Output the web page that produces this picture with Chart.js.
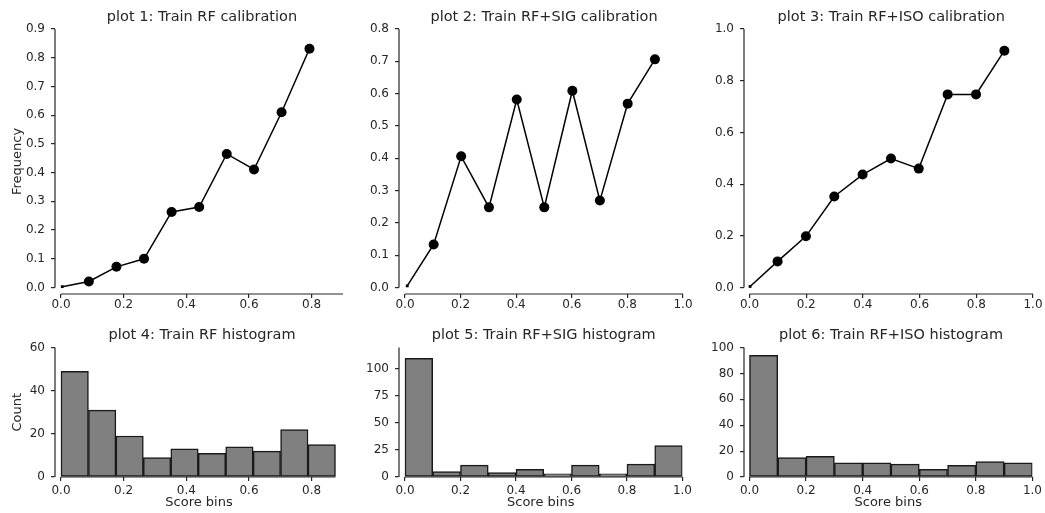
<!DOCTYPE html>
<html>
<head>
<meta charset="utf-8">
<script src="https://cdn.jsdelivr.net/npm/chart.js@4.4.0/dist/chart.umd.min.js"></script>
<style>
  html, body { margin: 0; padding: 0; background: #fff; }
  #page { position: relative; width: 1045px; height: 513px; overflow: hidden; }
  canvas { position: absolute; }
</style>
</head>
<body>
<div id="page">
  <canvas id="c1" width="350" height="320" style="left:0;top:0"></canvas>
  <canvas id="c2" width="345" height="320" style="left:350px;top:0"></canvas>
  <canvas id="c3" width="350" height="320" style="left:695px;top:0"></canvas>
  <canvas id="c4" width="350" height="193" style="left:0;top:320px"></canvas>
  <canvas id="c5" width="345" height="193" style="left:350px;top:320px"></canvas>
  <canvas id="c6" width="350" height="193" style="left:695px;top:320px"></canvas>
</div>
<script>
// calibration curves: mean score per bin vs observed frequency
const calib1X = [0.004, 0.089, 0.177, 0.265, 0.353, 0.441, 0.529, 0.616, 0.704, 0.793];
const calib1Y = [0.003, 0.021, 0.072, 0.100, 0.263, 0.280, 0.465, 0.411, 0.610, 0.831];
const calib2X = [0.008, 0.103, 0.202, 0.302, 0.402, 0.501, 0.602, 0.701, 0.801, 0.899];
const calib2Y = [0.005, 0.133, 0.406, 0.248, 0.582, 0.248, 0.609, 0.269, 0.569, 0.706];
const calib3X = [0.002, 0.099, 0.199, 0.299, 0.399, 0.499, 0.597, 0.699, 0.799, 0.899];
const calib3Y = [0.004, 0.101, 0.198, 0.352, 0.437, 0.499, 0.460, 0.747, 0.747, 0.916];

// histograms of scores
const hist4Edges = [0, 0.0876, 0.1752, 0.2628, 0.3504, 0.438, 0.5256, 0.6132, 0.7008, 0.7884, 0.876];
const hist4Counts = [49, 31, 19, 9, 13, 11, 14, 12, 22, 15];
const hist5Edges = [0, 0.1, 0.2, 0.3, 0.4, 0.5, 0.6, 0.7, 0.8, 0.9, 1.0];
const hist5Counts = [110, 5, 11, 4, 7, 3, 11, 3, 12, 29];
const hist6Edges = [0, 0.1, 0.2, 0.3, 0.4, 0.5, 0.6, 0.7, 0.8, 0.9, 1.0];
const hist6Counts = [94, 15, 16, 11, 11, 10, 6, 9, 12, 11];

// tick values
const scoreTicksShort = [0, 0.2, 0.4, 0.6, 0.8];
const scoreTicks = [0, 0.2, 0.4, 0.6, 0.8, 1.0];
const freqTicks1 = [0, 0.1, 0.2, 0.3, 0.4, 0.5, 0.6, 0.7, 0.8, 0.9];
const freqTicks2 = [0, 0.1, 0.2, 0.3, 0.4, 0.5, 0.6, 0.7, 0.8];
const freqTicks3 = [0, 0.2, 0.4, 0.6, 0.8, 1.0];
const countTicks4 = [0, 20, 40, 60];
const countTicks5 = [0, 25, 50, 75, 100];
const countTicks6 = [0, 20, 40, 60, 80, 100];

const INK = "#262626";
Chart.defaults.font.family = '"DejaVu Sans", sans-serif';
Chart.defaults.font.size = 12;
Chart.defaults.color = INK;

// offset spines (seaborn despine style) + title centred over the data range
const panelDecor = {
  id: "panelDecor",
  afterDraw(chart, args, opts) {
    const { ctx, chartArea, scales: { x, y } } = chart;
    ctx.save();
    ctx.strokeStyle = INK;
    ctx.lineWidth = 1.2;
    ctx.beginPath();
    ctx.moveTo(chartArea.left, y.getPixelForValue(0));
    ctx.lineTo(chartArea.left, y.getPixelForValue(y.max));
    ctx.moveTo(x.getPixelForValue(0), chartArea.bottom);
    ctx.lineTo(x.getPixelForValue(opts.xEnd), chartArea.bottom);
    ctx.stroke();
    ctx.fillStyle = INK;
    ctx.font = '14.5px "DejaVu Sans", sans-serif';
    ctx.textAlign = "center";
    ctx.textBaseline = "middle";
    const cx = (x.getPixelForValue(0) + x.getPixelForValue(x.max)) / 2;
    ctx.fillText(opts.title, cx, chartArea.top - 12);
    ctx.restore();
  }
};

function axis(p, which) {
  const isX = which === "x";
  return {
    type: "linear",
    min: isX ? p.xMin : p.yMin,
    max: isX ? p.xMax : p.yMax,
    offset: false,
    afterBuildTicks: s => { s.ticks = (isX ? p.xTicks : p.yTicks).map(v => ({ value: v })); },
    afterFit: s => { if (isX) s.height = p.xAxisHeight; else s.width = p.yAxisWidth; },
    ticks: {
      autoSkip: false,
      maxRotation: 0,
      padding: isX ? p.xTickPad : 6,
      callback: v => (isX || p.yDecimals) ? v.toFixed(1) : String(v)
    },
    grid: { offset: false, drawOnChartArea: false, tickLength: 4, color: INK, lineWidth: 1.2 },
    border: { display: false },
    title: isX
      ? { display: !!p.xTitle, text: p.xTitle, font: { size: 13 }, padding: { top: 0, bottom: 1 } }
      : { display: !!p.yTitle, text: p.yTitle, font: { size: 13 }, padding: { top: 10, bottom: 0 } }
  };
}

function baseOptions(p) {
  return {
    responsive: false,
    animation: false,
    layout: { autoPadding: false, padding: p.padding },
    plugins: {
      legend: { display: false },
      tooltip: { enabled: false },
      panelDecor: { title: p.title, xEnd: p.xEnd }
    },
    scales: { x: axis(p, "x"), y: axis(p, "y") }
  };
}

function calibrationChart(id, xs, ys, p) {
  return new Chart(document.getElementById(id), {
    type: "scatter",
    data: {
      datasets: [{
        data: xs.map((x, i) => ({ x, y: ys[i] })),
        showLine: true,
        borderColor: "#000",
        borderWidth: 1.5,
        backgroundColor: "#000",
        pointBackgroundColor: "#000",
        pointBorderColor: "#000",
        pointBorderWidth: 0,
        pointStyle: c => c.dataIndex === 0 ? "rect" : "circle",
        pointRadius: c => c.dataIndex === 0 ? 2 : 5
      }]
    },
    options: baseOptions(p),
    plugins: [panelDecor]
  });
}

function histogramChart(id, edges, counts, p) {
  return new Chart(document.getElementById(id), {
    type: "bar",
    data: {
      datasets: [{
        data: counts.map((c, i) => ({ x: (edges[i] + edges[i + 1]) / 2, y: c })),
        backgroundColor: "#808080",
        borderColor: "#1a1a1a",
        borderWidth: 1.5,
        borderSkipped: false,
        barPercentage: 1,
        categoryPercentage: 1
      }]
    },
    options: baseOptions(p),
    plugins: [panelDecor]
  });
}

const topPad = (right) => ({ left: 0, right, top: 29, bottom: 4 });
const botPad = (right) => ({ left: 0, right, top: 27.5, bottom: 2 });

calibrationChart("c1", calib1X, calib1Y, {
  title: "plot 1: Train RF calibration", yTitle: "Frequency", yDecimals: true,
  xMin: -0.0191, xMax: 0.9, xEnd: 0.9, yMin: -0.0226, yMax: 0.9,
  xTicks: scoreTicksShort, yTicks: freqTicks1,
  yAxisWidth: 55, xAxisHeight: 22, xTickPad: 0, padding: topPad(7)
});
calibrationChart("c2", calib2X, calib2Y, {
  title: "plot 2: Train RF+SIG calibration", yDecimals: true,
  xMin: -0.0216, xMax: 1.0, xEnd: 1.0, yMin: -0.0201, yMax: 0.8,
  xTicks: scoreTicks, yTicks: freqTicks2,
  yAxisWidth: 49, xAxisHeight: 22, xTickPad: 0, padding: topPad(12)
});
calibrationChart("c3", calib3X, calib3Y, {
  title: "plot 3: Train RF+ISO calibration", yDecimals: true,
  xMin: -0.0194, xMax: 1.0, xEnd: 1.0, yMin: -0.0251, yMax: 1.0,
  xTicks: scoreTicks, yTicks: freqTicks3,
  yAxisWidth: 49, xAxisHeight: 22, xTickPad: 0, padding: topPad(12)
});
histogramChart("c4", hist4Edges, hist4Counts, {
  title: "plot 4: Train RF histogram", yTitle: "Count", xTitle: "Score bins",
  xMin: -0.0191, xMax: 0.9, xEnd: hist4Edges[hist4Edges.length - 1], yMin: 0, yMax: 60,
  xTicks: scoreTicksShort, yTicks: countTicks4,
  yAxisWidth: 55, xAxisHeight: 34, xTickPad: 3, padding: botPad(7)
});
histogramChart("c5", hist5Edges, hist5Counts, {
  title: "plot 5: Train RF+SIG histogram", xTitle: "Score bins",
  xMin: -0.0216, xMax: 1.0, xEnd: 1.0, yMin: 0, yMax: 120,
  xTicks: scoreTicks, yTicks: countTicks5,
  yAxisWidth: 49, xAxisHeight: 34, xTickPad: 3, padding: botPad(12)
});
histogramChart("c6", hist6Edges, hist6Counts, {
  title: "plot 6: Train RF+ISO histogram", xTitle: "Score bins",
  xMin: -0.0194, xMax: 1.0, xEnd: 1.0, yMin: 0, yMax: 100,
  xTicks: scoreTicks, yTicks: countTicks6,
  yAxisWidth: 49, xAxisHeight: 34, xTickPad: 3, padding: botPad(12)
});
</script>
</body>
</html>
